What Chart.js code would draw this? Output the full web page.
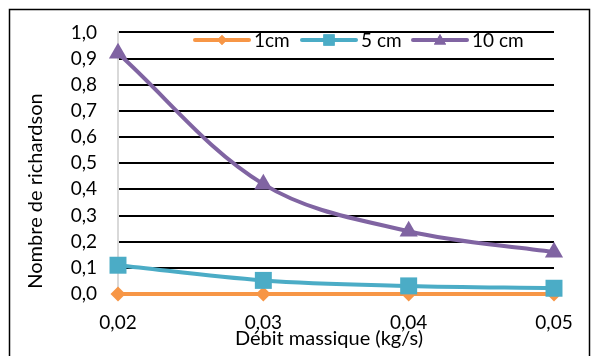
<!DOCTYPE html>
<html>
<head>
<meta charset="utf-8">
<script src="https://cdn.jsdelivr.net/npm/chart.js@4.4.1/dist/chart.umd.min.js"></script>
<style>
  html, body { margin: 0; padding: 0; background: #fff; }
  #wrap { width: 594px; height: 356px; position: relative; }
</style>
</head>
<body>
<div id="wrap"><canvas id="c" width="594" height="356"></canvas></div>
<script>
// Débit massique (kg/s) categories
const debits = ['0,02', '0,03', '0,04', '0,05'];
// Nombre de Richardson for each height
const serie1cm = [0.0, 0.0, 0.0, 0.0];
const serie5cm = [0.11, 0.052, 0.031, 0.022];
const serie10cm = [0.92, 0.42, 0.24, 0.16];
// Y tick labels (decimal comma)
const yTickLabels = ['0,0', '0,1', '0,2', '0,3', '0,4', '0,5', '0,6', '0,7', '0,8', '0,9', '1,0'];
const seriesNames = ['1cm', '5 cm', '10 cm'];

const FONT = 'Lato, "Open Sans", sans-serif';
const ORANGE = '#F79646', BLUE = '#4BACC6', PURPLE = '#8064A2';

// Frame, axis titles and legend drawn around the plot
const decorations = {
  id: 'decorations',
  beforeDraw(chart) {
    const ctx = chart.ctx;
    ctx.save();
    ctx.fillStyle = '#fff';
    ctx.fillRect(0, 0, chart.width, chart.height);
    ctx.strokeStyle = '#000';
    ctx.lineWidth = 1.5;
    ctx.strokeRect(9.5, 9.5, 580, 360);
    ctx.restore();
  },
  afterDraw(chart) {
    const ctx = chart.ctx;
    ctx.save();
    ctx.fillStyle = '#000';
    ctx.font = '20px ' + FONT;
    ctx.textAlign = 'center';
    ctx.textBaseline = 'middle';
    // x axis title
    ctx.fillText('Débit massique (kg/s)', 329, 339);
    // y axis title
    ctx.save();
    ctx.translate(36, 191);
    ctx.rotate(-Math.PI / 2);
    ctx.fillText('Nombre de richardson', 0, 0);
    ctx.restore();

    // legend: line sample with marker, then label
    const items = [
      { x: 195, color: ORANGE, style: 'rectRot', r: 5, label: seriesNames[0] },
      { x: 302, color: BLUE, style: 'rect', r: 8, label: seriesNames[1] },
      { x: 413, color: PURPLE, style: 'triangle', r: 7, label: seriesNames[2] }
    ];
    const ly = 40, len = 54;
    ctx.font = '19px ' + FONT;
    ctx.textAlign = 'left';
    items.forEach(it => {
      ctx.strokeStyle = it.color;
      ctx.lineWidth = 4;
      ctx.lineCap = 'round';
      ctx.beginPath();
      ctx.moveTo(it.x, ly);
      ctx.lineTo(it.x + len, ly);
      ctx.stroke();
      ctx.fillStyle = it.color;
      Chart.helpers.drawPoint(ctx, { pointStyle: it.style, radius: it.r, rotation: 0, borderWidth: 0 }, it.x + len / 2, ly + (it.style === 'triangle' ? 1 : 0));
      ctx.fill();
      ctx.fillStyle = '#000';
      ctx.fillText(it.label, it.x + len + 5, ly + 1);
    });
    ctx.restore();
  }
};

new Chart(document.getElementById('c'), {
  type: 'line',
  data: {
    labels: debits,
    datasets: [
      {
        label: seriesNames[0], data: serie1cm, order: 2,
        borderColor: ORANGE, backgroundColor: ORANGE, borderWidth: 4,
        pointStyle: 'rectRot', pointRadius: 7.5, pointBorderWidth: 0,
        tension: 0.35, clip: false
      },
      {
        label: seriesNames[1], data: serie5cm, order: 1,
        borderColor: BLUE, backgroundColor: BLUE, borderWidth: 4,
        pointStyle: 'rect', pointRadius: 12, pointBorderWidth: 0,
        tension: 0.35, clip: false
      },
      {
        label: seriesNames[2], data: serie10cm, order: 0,
        borderColor: PURPLE, backgroundColor: PURPLE, borderWidth: 4,
        pointStyle: 'triangle', pointRadius: 10.5, pointBorderWidth: 0,
        tension: 0.35, clip: false
      }
    ]
  },
  options: {
    responsive: false,
    animation: false,
    devicePixelRatio: 1,
    layout: { padding: { left: 0, right: 40, top: 24, bottom: 0 } },
    plugins: { legend: { display: false }, tooltip: { enabled: false } },
    scales: {
      x: {
        type: 'category',
        offset: false,
        grid: { display: false, drawTicks: false },
        border: { display: false },
        ticks: { color: '#000', font: { family: FONT, size: 19 }, padding: 17, maxRotation: 0 },
        afterFit(scale) { scale.height = 62; }
      },
      y: {
        min: 0, max: 1,
        grid: { color: '#000', lineWidth: 2, drawTicks: false },
        border: { display: true, color: '#d9d9d9', width: 2 },
        ticks: {
          stepSize: 0.1, color: '#000', padding: 21,
          font: { family: FONT, size: 19 },
          callback: (v, i) => yTickLabels[i]
        },
        afterFit(scale) { scale.width = 118; }
      }
    }
  },
  plugins: [decorations]
});
</script>
</body>
</html>
